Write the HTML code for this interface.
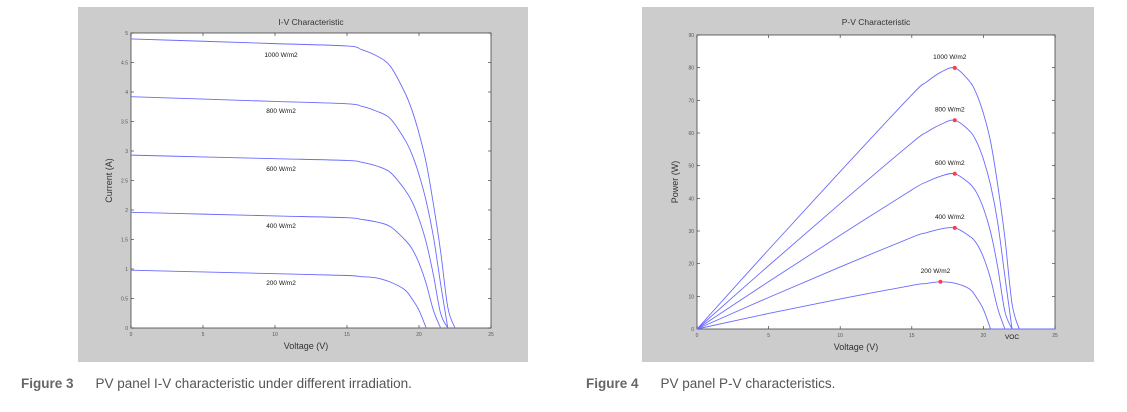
<!DOCTYPE html>
<html><head><meta charset="utf-8"><style>
body{margin:0;width:1127px;height:412px;background:#fff;overflow:hidden;font-family:"Liberation Sans",sans-serif}
svg{position:absolute;left:0;top:0}
.cap{position:absolute;top:376px;font-size:13.5px;color:#555}
.cap b{color:#666;font-weight:bold;margin-right:22px}
</style></head><body>
<svg id="chart" width="1127" height="412"></svg>
<div class="cap" style="left:21px"><b>Figure 3</b>PV panel I-V characteristic under different irradiation.</div>
<div class="cap" style="left:586px"><b>Figure 4</b>PV panel P-V characteristics.</div>
<script>
const voltages=[0,5,10,15,16,17,18,19,19.5,20,20.5,21,21.5,22,22.5];
const irrLabels=["1000 W/m2","800 W/m2","600 W/m2","400 W/m2","200 W/m2"];
const cur1000=[4.9,4.86,4.82,4.78,4.72,4.62,4.44,4.0,3.7,3.3,2.8,2.1,1.3,0.35,0];
const cur800=[3.92,3.88,3.84,3.8,3.76,3.68,3.55,3.2,2.95,2.6,2.15,1.55,0.75,0,0];
const cur600=[2.93,2.9,2.87,2.84,2.81,2.75,2.64,2.35,2.15,1.85,1.45,0.9,0.25,0,0];
const cur400=[1.96,1.93,1.9,1.87,1.84,1.8,1.72,1.5,1.35,1.1,0.75,0.3,0,0,0];
const cur200=[0.98,0.95,0.92,0.89,0.87,0.85,0.78,0.65,0.5,0.3,0,0,0,0,0];
const ivTicksX=[0,5,10,15,20,25];
const ivTicksY=[0,0.5,1,1.5,2,2.5,3,3.5,4,4.5,5];
const pvTicksY=[0,10,20,30,40,50,60,70,80,90];
const currents=[cur1000,cur800,cur600,cur400,cur200];
const NS="http://www.w3.org/2000/svg";
const svg=document.getElementById('chart');
function mk(t,a,p){const e=document.createElementNS(NS,t);for(const k in a)e.setAttribute(k,a[k]);(p||svg).appendChild(e);return e;}
function txt(s,a,p){const e=mk('text',a,p);e.textContent=s;return e;}
function smooth(P){
  let d='M'+P[0][0]+','+P[0][1];
  for(let i=0;i<P.length-1;i++){
    const p0=P[i-1]||P[i],p1=P[i],p2=P[i+1],p3=P[i+2]||p2;
    const c1=[p1[0]+(p2[0]-p0[0])/6,p1[1]+(p2[1]-p0[1])/6];
    const c2=[p2[0]-(p3[0]-p1[0])/6,p2[1]-(p3[1]-p1[1])/6];
    d+=` C${c1[0]},${c1[1]} ${c2[0]},${c2[1]} ${p2[0]},${p2[1]}`;
  }
  return d;
}
function panel(o){
  const g=mk('g',{});
  
  
  const bg=mk('rect',{x:o.bx,y:7,width:o.bw,height:355,fill:'#cccccc'},g);
  
  
  const pa=mk('rect',{x:o.L,y:o.T,width:o.R-o.L,height:o.B-o.T,fill:'#fff',stroke:'#444','stroke-width':0.8},g);
  
  
  const sx=v=>o.L+(v-0)/25*(o.R-o.L);
  const sy=v=>o.B-v/o.ymax*(o.B-o.T);
  ivTicksX.forEach(t=>{
    mk('line',{x1:sx(t),x2:sx(t),y1:o.B,y2:o.B-3,stroke:'#444','stroke-width':0.7},g);
    mk('line',{x1:sx(t),x2:sx(t),y1:o.T,y2:o.T+3,stroke:'#444','stroke-width':0.7},g);
    const l=txt(t,{x:sx(t),y:o.B+8,'font-size':5,'text-anchor':'middle',fill:'#555'},g);
    
    
  });
  o.yt.forEach(t=>{
    mk('line',{x1:o.L,x2:o.L+3,y1:sy(t),y2:sy(t),stroke:'#444','stroke-width':0.7},g);
    mk('line',{x1:o.R,x2:o.R-3,y1:sy(t),y2:sy(t),stroke:'#444','stroke-width':0.7},g);
    const l=txt(t,{x:o.L-3,y:sy(t)+2,'font-size':5,'text-anchor':'end',fill:'#555'},g);
    
    
  });
  const ti=txt(o.title,{x:(o.L+o.R)/2,y:25,'font-size':8.5,'text-anchor':'middle',fill:'#333'},g);
  
  
  const xl=txt('Voltage (V)',{x:(o.L+o.R)/2-(o.pv?20:5),y:o.B+21,'font-size':9,'text-anchor':'middle',fill:'#333'},g);
  
  
  const yl=txt(o.ytitle,{x:0,y:0,'font-size':9,'text-anchor':'middle',fill:'#333',transform:`translate(${o.L-19},${(o.T+o.B)/2}) rotate(-90)`},g);
  
  
  return {g,sx,sy};
}
// I-V
const iv=panel({name:'iv-chart',bx:78,bw:450,L:131,R:491,T:33,B:328,ymax:5,yt:ivTicksY,title:'I-V Characteristic',ytitle:'Current (A)'});
const ivLabelY=[57,113,171,228,285];
currents.forEach((c,i)=>{
  const pts=[];
  for(let k=0;k<voltages.length;k++){pts.push([iv.sx(voltages[k]),iv.sy(c[k])]);if(c[k]<=0)break;}
  const pl=mk('path',{d:smooth(pts),fill:'none',stroke:'#6a6aff','stroke-width':0.9},iv.g);
  
  
  const l=txt(irrLabels[i],{x:281,y:ivLabelY[i],'font-size':6.5,'text-anchor':'middle',fill:'#111'},iv.g);
  
  
});
// P-V
const pv=panel({name:'pv-chart',bx:642,bw:452,L:697,R:1055,T:35,B:329,ymax:90,yt:pvTicksY,title:'P-V Characteristic',ytitle:'Power (W)',pv:true});
currents.forEach((c,i)=>{
  const pts=[];let best=0,bv=0;
  for(let k=0;k<voltages.length;k++){const p=voltages[k]*c[k];if(p>best){best=p;bv=voltages[k];}pts.push([pv.sx(voltages[k]),pv.sy(p)]);if(c[k]<=0)break;}
  const pl=mk('path',{d:smooth(pts)+` L${pv.sx(25)},${pv.sy(0)}`,fill:'none',stroke:'#6a6aff','stroke-width':0.9},pv.g);
  
  
  const d=mk('circle',{cx:pv.sx(bv),cy:pv.sy(best),r:2,fill:'#ff3b4e'},pv.g);
  
  
  const l=txt(irrLabels[i],{x:pv.sx(bv)-5,y:pv.sy(best)-9,'font-size':6.5,'text-anchor':'middle',fill:'#111'},pv.g);
  
  
});
const voc=txt('VOC',{x:1012,y:339,'font-size':6.5,'text-anchor':'middle',fill:'#111'},pv.g);


</script>
</body></html>
